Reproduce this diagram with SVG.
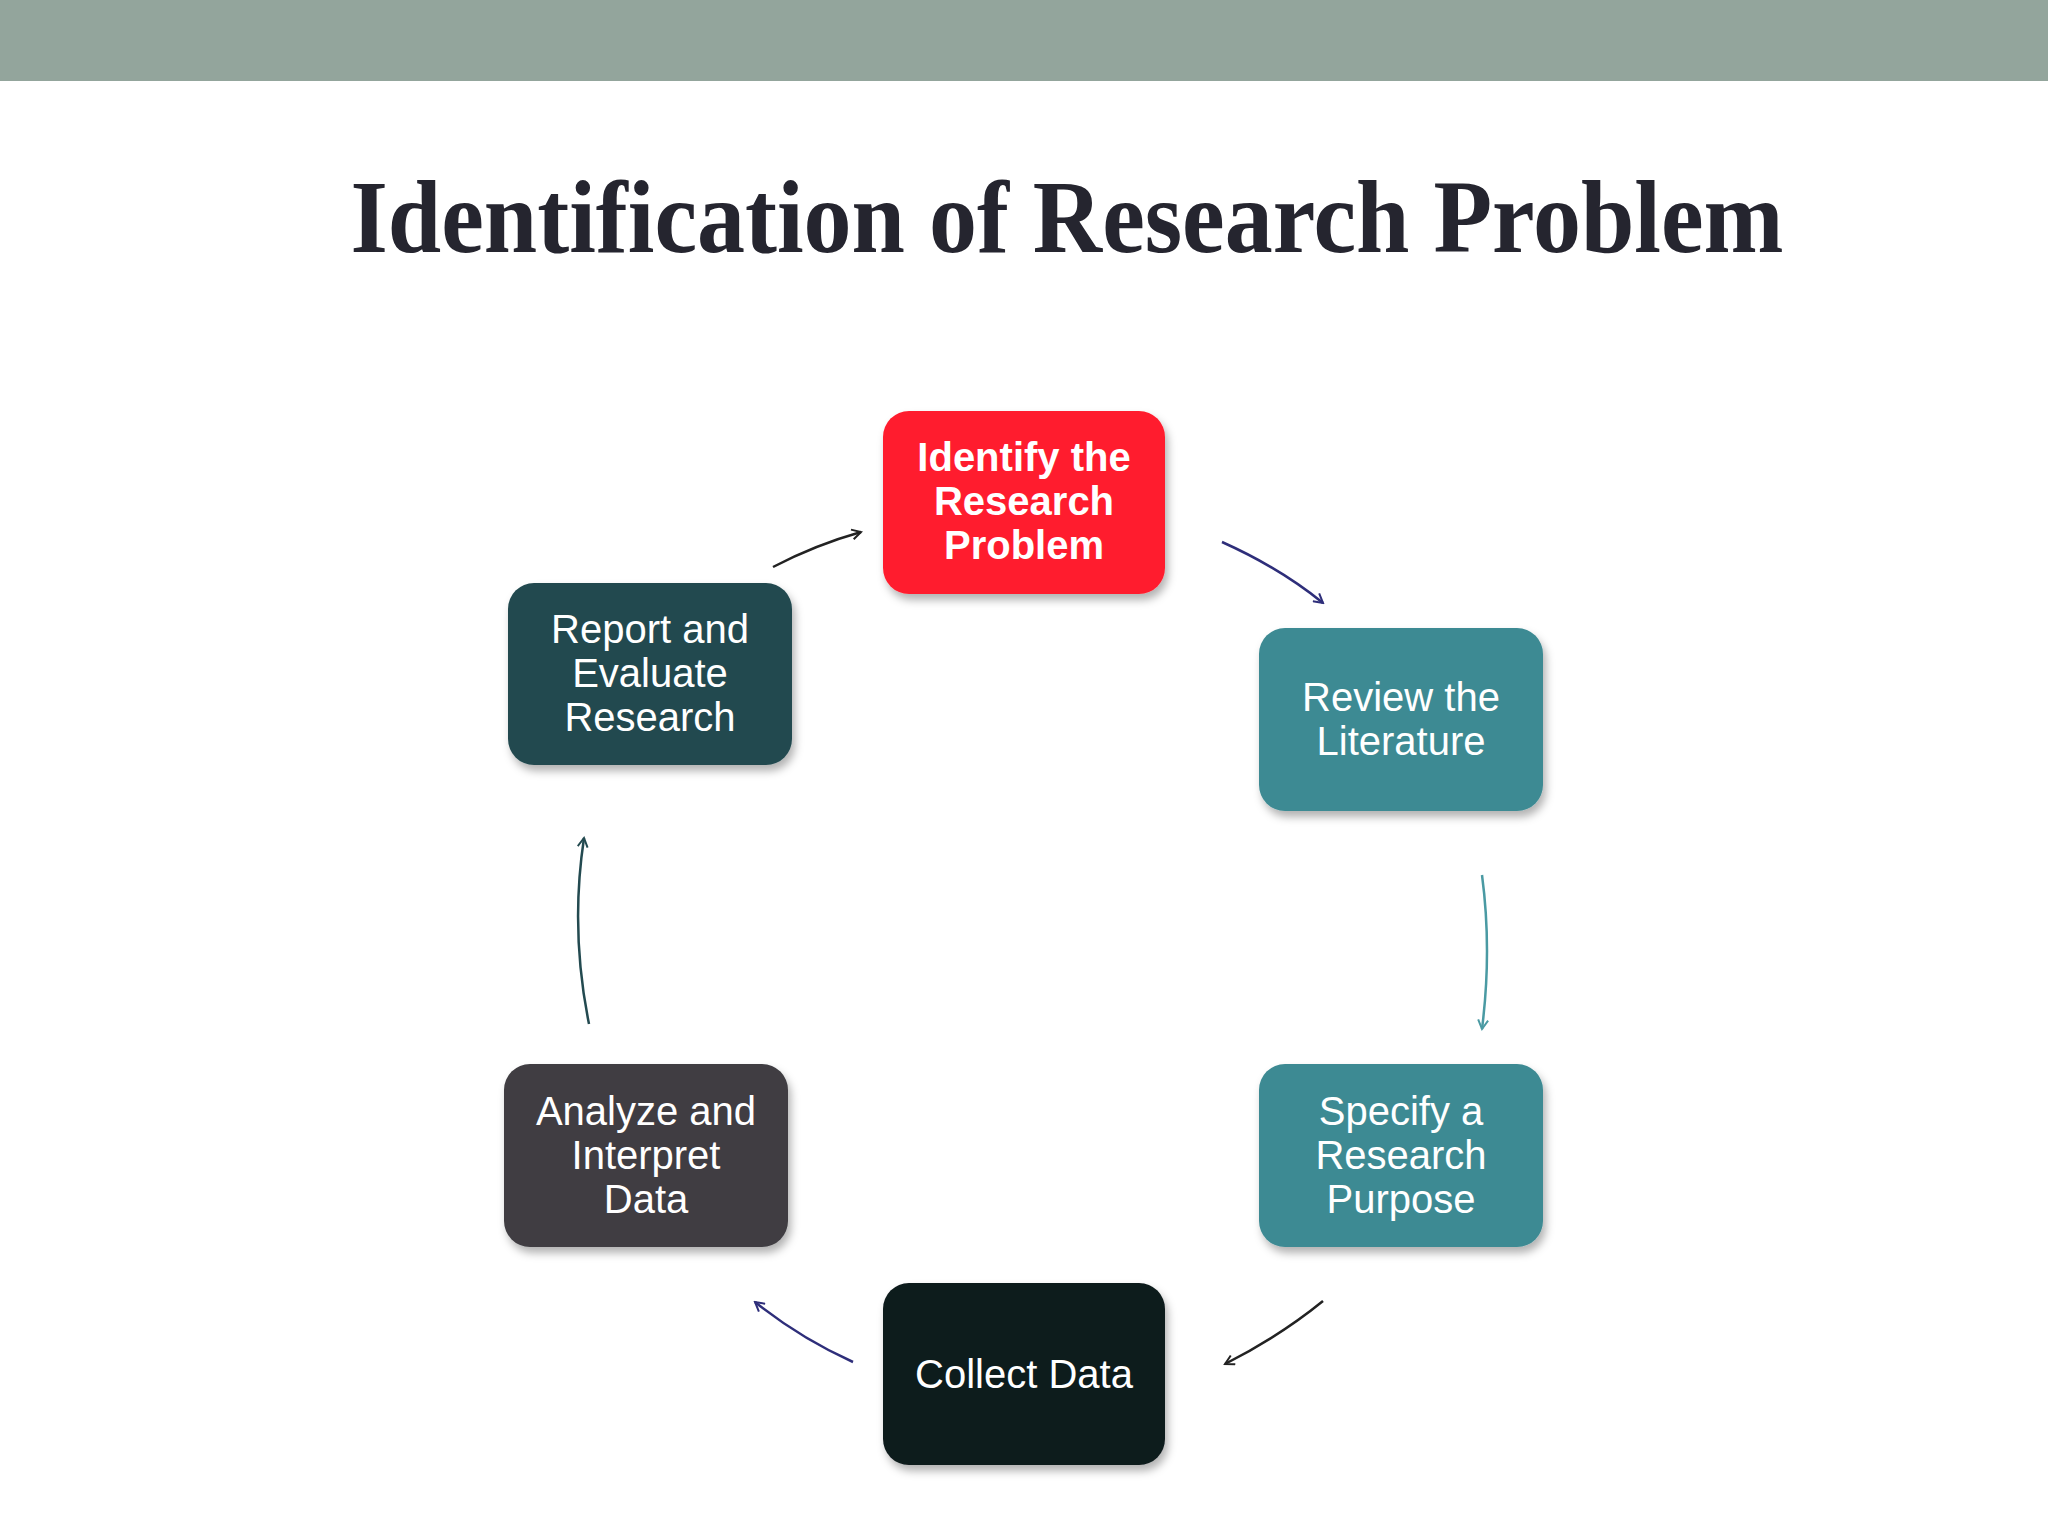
<svg xmlns="http://www.w3.org/2000/svg" width="2048" height="1536" viewBox="0 0 2048 1536">
<defs>
<style>
.n text{font-family:"Liberation Sans",Arial,sans-serif;font-size:40px;fill:#fff;text-anchor:middle}
.c path{fill:none;stroke-width:2.5}
</style>
<filter id="sh" x="-10%" y="-10%" width="130%" height="130%"><feDropShadow dx="3" dy="6" stdDeviation="4" flood-color="#000" flood-opacity="0.3"/></filter>
<marker id="m1" viewBox="0 0 12 12" refX="10" refY="6" markerWidth="12" markerHeight="12" markerUnits="userSpaceOnUse" orient="auto"><path d="M1,1 L10,6 L1,11" fill="none" stroke="#222" stroke-width="2"/></marker>
<marker id="m2" viewBox="0 0 12 12" refX="10" refY="6" markerWidth="12" markerHeight="12" markerUnits="userSpaceOnUse" orient="auto"><path d="M1,1 L10,6 L1,11" fill="none" stroke="#2E2E7A" stroke-width="2"/></marker>
<marker id="m3" viewBox="0 0 12 12" refX="10" refY="6" markerWidth="12" markerHeight="12" markerUnits="userSpaceOnUse" orient="auto"><path d="M1,1 L10,6 L1,11" fill="none" stroke="#4A9AA3" stroke-width="2"/></marker>
<marker id="m4" viewBox="0 0 12 12" refX="10" refY="6" markerWidth="12" markerHeight="12" markerUnits="userSpaceOnUse" orient="auto"><path d="M1,1 L10,6 L1,11" fill="none" stroke="#234A50" stroke-width="2"/></marker>
</defs>
<rect width="2048" height="1536" fill="#fff"/>
<rect width="2048" height="81" fill="#93A59C"/>
<text x="1067" y="252" font-family="Liberation Serif,serif" font-weight="bold" font-size="104" fill="#25252F" text-anchor="middle" textLength="1433" lengthAdjust="spacingAndGlyphs">Identification of Research Problem</text>
<g class="c">
<path d="M773,567 Q815,545 861,532" stroke="#222" marker-end="url(#m1)"/>
<path d="M1222,542 Q1280,568 1323,603" stroke="#2E2E7A" marker-end="url(#m2)"/>
<path d="M1482,875 Q1492,950 1482,1029" stroke="#4A9AA3" marker-end="url(#m3)"/>
<path d="M1323,1301 Q1280,1336 1225,1364" stroke="#222" marker-end="url(#m1)"/>
<path d="M853,1362 Q800,1338 755,1302" stroke="#2E2E7A" marker-end="url(#m2)"/>
<path d="M589,1024 Q570,930 584,838" stroke="#234A50" marker-end="url(#m4)"/>
</g>
<g id="identify" class="n"><rect x="883" y="411" width="282" height="183" rx="26" fill="#FF1F2E" filter="url(#sh)"/>
<text font-weight="bold"><tspan x="1024" y="471">Identify the</tspan><tspan x="1024" y="515">Research</tspan><tspan x="1024" y="559">Problem</tspan></text></g>
<g id="review" class="n"><rect x="1259" y="628" width="284" height="183" rx="26" fill="#3E8A93" filter="url(#sh)"/>
<text><tspan x="1401" y="711">Review the</tspan><tspan x="1401" y="755">Literature</tspan></text></g>
<g id="specify" class="n"><rect x="1259" y="1064" width="284" height="183" rx="26" fill="#3E8A93" filter="url(#sh)"/>
<text><tspan x="1401" y="1125">Specify a</tspan><tspan x="1401" y="1169">Research</tspan><tspan x="1401" y="1213">Purpose</tspan></text></g>
<g id="collect" class="n"><rect x="883" y="1283" width="282" height="182" rx="26" fill="#0B1A1B" filter="url(#sh)"/>
<text><tspan x="1024" y="1388">Collect Data</tspan></text></g>
<g id="analyze" class="n"><rect x="504" y="1064" width="284" height="183" rx="26" fill="#3F3E42" filter="url(#sh)"/>
<text><tspan x="646" y="1125">Analyze and</tspan><tspan x="646" y="1169">Interpret</tspan><tspan x="646" y="1213">Data</tspan></text></g>
<g id="report" class="n"><rect x="508" y="583" width="284" height="182" rx="26" fill="#234A50" filter="url(#sh)"/>
<text><tspan x="650" y="643">Report and</tspan><tspan x="650" y="687">Evaluate</tspan><tspan x="650" y="731">Research</tspan></text></g>
</svg>
